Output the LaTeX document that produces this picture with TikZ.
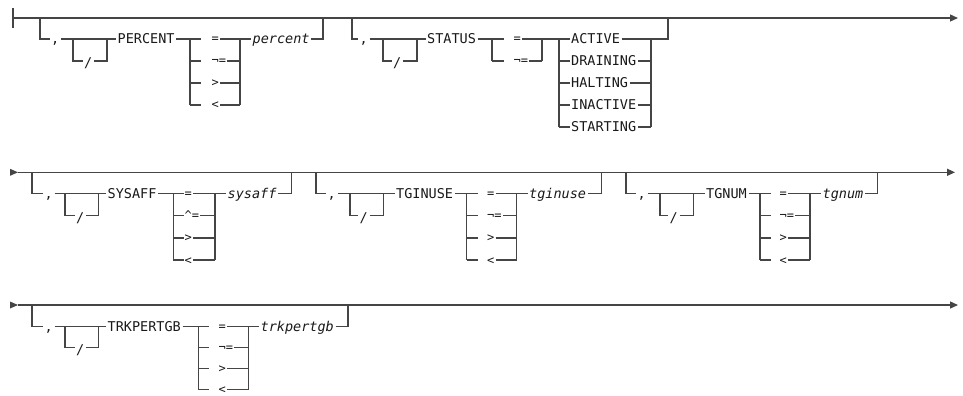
\documentclass[tikz,border=0pt]{standalone}
\usepackage{fontspec}
\newfontfamily\rrmono{DejaVu Sans Mono}
\usetikzlibrary{arrows.meta}
\definecolor{linec}{gray}{0.27}
\definecolor{txtc}{gray}{0.1}
\begin{document}
\begin{tikzpicture}[x=1bp,y=-1bp,
  rail/.style={draw=linec,line width=1.3bp},
  endtip/.style={-{Triangle[length=8bp,width=7bp]}},
  kw/.style={font=\rrmono\fontsize{13.5bp}{15bp}\selectfont,text=txtc,inner ysep=0pt,inner xsep=1.5bp,text height=9.8bp,text depth=0pt,anchor=west},
  var/.style={kw,font=\rrmono\itshape\fontsize{13.5bp}{15bp}\selectfont},
  op/.style={kw,font=\rrmono\fontsize{12bp}{13bp}\selectfont,text height=7.9bp,inner xsep=1bp},
  starttri/.style={fill=linec,draw=none}]
\useasboundingbox (0,0) rectangle (963,395);

% ================= Row 1
\coordinate (s1) at (13,18);
\coordinate (e1) at (958,18);
\draw[rail] (13,8) -- (13,28);
\draw[rail,endtip] (s1) -- (e1);

% ---- Block A : PERCENT
\coordinate (aL) at (40,18);
\coordinate (aR) at (323,18);
\node[kw] (aC) at (49.5,39) {,};
\draw[rail] (aL) |- (aC.west);
\coordinate (aB1) at (73,39);
\coordinate (aB2) at (107,39);
\node[kw] (aS) at (82.5,61) {\raisebox{-2bp}{/}};
\draw[rail] (aB1) |- (aS.west);
\draw[rail] (aS.east) -| (aB2);
\node[kw] (aK) at (116,39) {PERCENT};
\draw[rail] (aC.east) -- (aK.west);
\foreach \ot [count=\i] in {=,¬=,>,<} {
  \coordinate (aV\i) at (190,39+22*\i-22);
  \coordinate (aT\i) at (201,39+22*\i-22);
  \coordinate (aW\i) at (240,39+22*\i-22);
  \node[op] (aO\i) at (210.5,39+22*\i-22) {\ot};
  \draw[rail] (aV\i) -- (aT\i);
  \draw[rail] (aO\i.east) -- (aW\i);
}
\draw[rail] (aK.east) -- (aV1);
\draw[rail] (aV1) -- (aV4);
\draw[rail] (aW1) -- (aW4);
\node[var] (aP) at (251,39) {percent};
\draw[rail] (aW1) -- (aP.west);
\draw[rail] (aP.east) -| (aR);

% ---- Block B : STATUS
\coordinate (bL) at (352,18);
\coordinate (bR) at (668,18);
\node[kw] (bC) at (358,39) {,};
\draw[rail] (bL) |- (bC.west);
\coordinate (bB1) at (383,39);
\coordinate (bB2) at (417,39);
\node[kw] (bS) at (391.5,61) {\raisebox{-2bp}{/}};
\draw[rail] (bB1) |- (bS.west);
\draw[rail] (bS.east) -| (bB2);
\node[kw] (bK) at (425.5,39) {STATUS};
\draw[rail] (bC.east) -- (bK.west);
\foreach \ot [count=\i] in {=,¬=} {
  \coordinate (bV\i) at (492,39+22*\i-22);
  \coordinate (bT\i) at (504,39+22*\i-22);
  \coordinate (bW\i) at (542,39+22*\i-22);
  \node[op] (bO\i) at (512.5,39+22*\i-22) {\ot};
  \draw[rail] (bV\i) -- (bT\i);
  \draw[rail] (bO\i.east) -- (bW\i);
}
\draw[rail] (bK.east) -- (bV1);
\draw[rail] (bV1) -- (bV2);
\draw[rail] (bW1) -- (bW2);
\foreach \vt [count=\i] in {ACTIVE,DRAINING,HALTING,INACTIVE,STARTING} {
  \coordinate (bX\i) at (559,39+22*\i-22);
  \coordinate (bY\i) at (651,39+22*\i-22);
  \node[kw] (bN\i) at (569.5,39+22*\i-22) {\vt};
  \draw[rail] (bX\i) -- (bN\i.west);
  \draw[rail] (bN\i.east) -- (bY\i);
}
\draw[rail] (bW1) -- (bX1);
\draw[rail] (bX1) -- (bX5);
\draw[rail] (bY1) -- (bY5);
\draw[rail] (bY1) -| (bR);

% ================= Row 2
\coordinate (s2) at (18,172.3);
\coordinate (e2) at (955,172.3);
\fill[starttri] (10,168.8) -- (18,172.3) -- (10,175.8) -- cycle;
\draw[rail,endtip] (s2) -- (e2);

% ---- Block C : SYSAFF
\coordinate (cL) at (32,172.3);
\coordinate (cR) at (291.7,172.3);
\node[kw] (cC) at (43,193.5) {,};
\draw[rail] (cL) |- (cC.west);
\coordinate (cB1) at (65,193.5);
\coordinate (cB2) at (98.3,193.5);
\node[kw] (cS) at (74.5,215.7) {\raisebox{-2bp}{/}};
\draw[rail] (cB1) |- (cS.west);
\draw[rail] (cS.east) -| (cB2);
\node[kw] (cK) at (106,193.5) {SYSAFF};
\draw[rail] (cC.east) -- (cK.west);
\foreach \ot [count=\i] in {=,\textasciicircum=,>,<} {
  \coordinate (cV\i) at (173.3,193.5+22.2*\i-22.2);
  \coordinate (cW\i) at (215,193.5+22.2*\i-22.2);
  \node[op] (cO\i) at (183.5,193.5+22.2*\i-22.2) {\ot};
  \draw[rail] (cV\i) -- (cO\i.west);
  \draw[rail] (cO\i.east) -- (cW\i);
}
\draw[rail] (cK.east) -- (cV1);
\draw[rail] (cV1) -- (cV4);
\draw[rail] (cW1) -- (cW4);
\node[var] (cP) at (226,193.5) {sysaff};
\draw[rail] (cW1) -- (cP.west);
\draw[rail] (cP.east) -| (cR);

% ---- Block D : TGINUSE
\coordinate (dL) at (316,172.3);
\coordinate (dR) at (601.7,172.3);
\node[kw] (dC) at (326,193.5) {,};
\draw[rail] (dL) |- (dC.west);
\coordinate (dB1) at (350,193.5);
\coordinate (dB2) at (383.3,193.5);
\node[kw] (dS) at (358,215.7) {\raisebox{-2bp}{/}};
\draw[rail] (dB1) |- (dS.west);
\draw[rail] (dS.east) -| (dB2);
\node[kw] (dK) at (394.5,193.5) {TGINUSE};
\draw[rail] (dC.east) -- (dK.west);
\foreach \ot [count=\i] in {=,¬=,>,<} {
  \coordinate (dV\i) at (466.7,193.5+22.2*\i-22.2);
  \coordinate (dT\i) at (478,193.5+22.2*\i-22.2);
  \coordinate (dW\i) at (516.7,193.5+22.2*\i-22.2);
  \node[op] (dO\i) at (486,193.5+22.2*\i-22.2) {\ot};
  \draw[rail] (dV\i) -- (dT\i);
  \draw[rail] (dO\i.east) -- (dW\i);
}
\draw[rail] (dK.east) -- (dV1);
\draw[rail] (dV1) -- (dV4);
\draw[rail] (dW1) -- (dW4);
\node[var] (dP) at (527.5,193.5) {tginuse};
\draw[rail] (dW1) -- (dP.west);
\draw[rail] (dP.east) -| (dR);

% ---- Block E : TGNUM
\coordinate (eL) at (626,172.3);
\coordinate (eR) at (877.3,172.3);
\node[kw] (eC) at (636,193.5) {,};
\draw[rail] (eL) |- (eC.west);
\coordinate (eB1) at (660,193.5);
\coordinate (eB2) at (693.3,193.5);
\node[kw] (eS) at (668,215.7) {\raisebox{-2bp}{/}};
\draw[rail] (eB1) |- (eS.west);
\draw[rail] (eS.east) -| (eB2);
\node[kw] (eK) at (704.5,193.5) {TGNUM};
\draw[rail] (eC.east) -- (eK.west);
\foreach \ot [count=\i] in {=,¬=,>,<} {
  \coordinate (eV\i) at (760,193.5+22.2*\i-22.2);
  \coordinate (eT\i) at (771,193.5+22.2*\i-22.2);
  \coordinate (eW\i) at (810,193.5+22.2*\i-22.2);
  \node[op] (eO\i) at (778.5,193.5+22.2*\i-22.2) {\ot};
  \draw[rail] (eV\i) -- (eT\i);
  \draw[rail] (eO\i.east) -- (eW\i);
}
\draw[rail] (eK.east) -- (eV1);
\draw[rail] (eV1) -- (eV4);
\draw[rail] (eW1) -- (eW4);
\node[var] (eP) at (821,193.5) {tgnum};
\draw[rail] (eW1) -- (eP.west);
\draw[rail] (eP.east) -| (eR);

% ================= Row 3
\coordinate (s3) at (18,305);
\coordinate (e3) at (958,305);
\fill[starttri] (10,301.5) -- (18,305) -- (10,308.5) -- cycle;
\draw[rail,endtip] (s3) -- (e3);

% ---- Block F : TRKPERTGB
\coordinate (fL) at (32,305);
\coordinate (fR) at (348,305);
\node[kw] (fC) at (43,326.5) {,};
\draw[rail] (fL) |- (fC.west);
\coordinate (fB1) at (65,326.5);
\coordinate (fB2) at (98.3,326.5);
\node[kw] (fS) at (74.5,347.5) {\raisebox{-2bp}{/}};
\draw[rail] (fB1) |- (fS.west);
\draw[rail] (fS.east) -| (fB2);
\node[kw] (fK) at (106,326.5) {TRKPERTGB};
\draw[rail] (fC.east) -- (fK.west);
\foreach \ot [count=\i] in {=,¬=,>,<} {
  \coordinate (fV\i) at (198.3,326.5+21*\i-21);
  \coordinate (fT\i) at (209,326.5+21*\i-21);
  \coordinate (fW\i) at (248.3,326.5+21*\i-21);
  \node[op] (fO\i) at (217.5,326.5+21*\i-21) {\ot};
  \draw[rail] (fV\i) -- (fT\i);
  \draw[rail] (fO\i.east) -- (fW\i);
}
\draw[rail] (fK.east) -- (fV1);
\draw[rail] (fV1) -- (fV4);
\draw[rail] (fW1) -- (fW4);
\node[var] (fP) at (259,326.5) {trkpertgb};
\draw[rail] (fW1) -- (fP.west);
\draw[rail] (fP.east) -| (fR);
\end{tikzpicture}
\end{document}
